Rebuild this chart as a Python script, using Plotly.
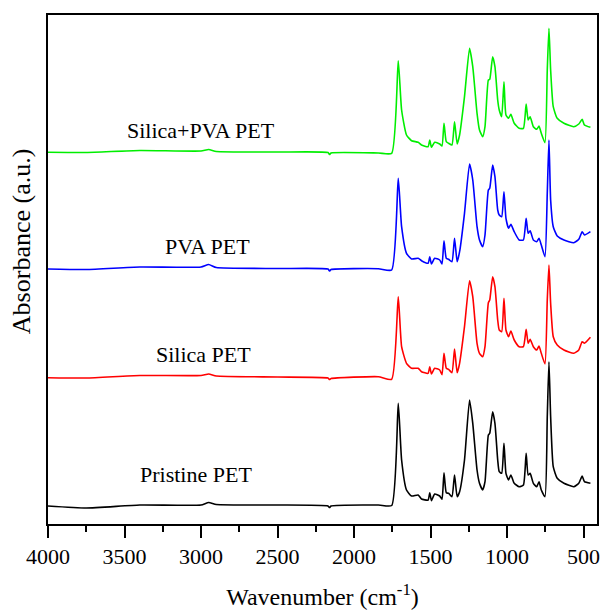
import plotly.graph_objects as go

wavenumber = [4000, 3750, 3400, 3000, 2950, 2900, 2500, 2170, 2160, 2150, 1841, 1754,
              1711, 1689, 1657, 1624, 1581, 1559, 1516, 1505, 1494, 1473, 1440, 1425,
              1412, 1397, 1382, 1360, 1343, 1326, 1310, 1278, 1245, 1224, 1196, 1180,
              1159, 1144, 1122, 1113, 1094, 1079, 1061, 1051, 1035, 1020, 1007, 990,
              975, 953, 921, 893, 875, 862, 849, 828, 806, 791, 776, 752,
              737, 726, 715, 698, 672, 628, 564, 531, 509, 494, 455]

pristine = [18, 16, 19, 19, 21.5, 19.5, 19, 18, 16.5, 18, 19, 18.5,
            120.7, 64, 34, 28, 29, 25, 24, 31.3, 23.3, 30, 28, 24.7,
            51.3, 31.3, 30.7, 27.3, 49, 27.3, 32.3, 64, 124, 100.7, 54, 40.7,
            34, 42.3, 89, 90.7, 112.3, 100.7, 64, 52.3, 50.7, 80.7, 50.7, 44,
            49, 40.7, 37.3, 39, 70.7, 49, 50.7, 40.7, 37.3, 42.3, 34, 27.3,
            107.3, 162.3, 107.3, 57.3, 45.7, 40.7, 37.3, 40.7, 48, 42.3, 40.7]

silica = [146.3, 146, 148.5, 148.5, 150, 148, 147, 146, 144.5, 145.5, 147.3, 144.7,
          227.3, 177.3, 160.7, 155.7, 155.7, 152.3, 150.7, 157.3, 150, 155.7, 154, 149.3,
          170.7, 155.7, 154.7, 151.3, 175, 151.3, 160.7, 197.3, 243.3, 227.3, 180.7, 170.7,
          167.3, 177.3, 221.3, 224, 247.3, 237.3, 204, 194, 192.3, 225.7, 194, 187.3,
          193, 184, 177.3, 177.3, 194.7, 180.7, 184.7, 177.3, 174, 178, 170.7, 160,
          224, 259, 220.7, 187.3, 179, 174, 170.7, 174, 182.3, 180.7, 186.7]

pva = [255, 254.5, 257, 257, 259.5, 256.5, 255.5, 255, 253, 254.5, 255.3, 254,
       345.7, 297.3, 270.7, 265, 265.7, 263.3, 260.7, 267.3, 260, 265.7, 264, 260,
       283.3, 265.7, 264.7, 262.3, 285.7, 262.3, 272.3, 310.7, 360, 344, 297.3, 284,
       277.3, 289, 334, 335.7, 359, 347.3, 314, 309, 307.3, 332.3, 305.7, 295.7,
       299.7, 292.3, 284, 284, 305.7, 290.7, 293.3, 284, 282.3, 285.7, 279, 267.3,
       330.7, 384, 324, 297.3, 288, 284, 281.3, 284.7, 292.3, 289, 292.3]

silica_pva = [371.7, 371.5, 373.5, 373, 374.5, 372.5, 372, 371.5, 369.5, 371, 371, 370.7,
              463.3, 414, 389, 383.3, 381.7, 379, 377.3, 384, 376.7, 381.7, 380, 378,
              400.7, 382.3, 380.7, 379, 402.3, 380, 389, 427.3, 475.7, 457.3, 410.7, 394,
              387.3, 397.3, 444, 444.7, 467.3, 457.3, 424, 414, 407.3, 442.3, 409, 405.7,
              409.7, 400.7, 395.7, 395.7, 420, 404, 407.3, 397.3, 394.7, 398, 390.7, 381.3,
              454, 495.7, 454, 417.3, 405.7, 400.7, 397.3, 400, 404.7, 399, 396.7]

series_names = ["Pristine PET", "Silica PET", "PVA PET", "Silica+PVA PET"]
series_values = [pristine, silica, pva, silica_pva]
series_colors = ["#000000", "#ff0000", "#0000ff", "#00ee00"]
label_x = [3036, 2984, 2958, 3003]
label_y = [50, 170, 278, 394]

FONT = "Liberation Serif"

fig = go.Figure()
for name, vals, col in zip(series_names, series_values, series_colors):
    fig.add_trace(go.Scatter(x=wavenumber, y=vals, mode="lines", name=name,
                             line=dict(color=col, width=1.6, shape="spline", smoothing=0.5),
                             showlegend=False))

for name, lx, ly in zip(series_names, label_x, label_y):
    fig.add_annotation(x=lx, y=ly, text=name, showarrow=False,
                       font=dict(family=FONT, size=22, color="black"))

# y-axis title placed as rotated text
fig.add_annotation(xref="paper", yref="paper", x=-0.048, y=0.555,
                   xanchor="center", yanchor="middle",
                   text="Absorbance (a.u.)", textangle=-90, showarrow=False,
                   font=dict(family=FONT, size=26, color="black"))

fig.update_layout(
    width=603, height=610,
    margin=dict(l=48, r=3, t=15, b=86),
    paper_bgcolor="white", plot_bgcolor="white",
    font=dict(family=FONT, color="black"),
)
fig.update_xaxes(
    range=[4000, 412], showgrid=False, zeroline=False,
    showline=True, linewidth=2, linecolor="black", mirror=True,
    ticks="outside", ticklen=12, tickwidth=2, tickcolor="black",
    tickvals=[4000, 3500, 3000, 2500, 2000, 1500, 1000, 500],
    minor=dict(tickvals=[3750, 3250, 2750, 2250, 1750, 1250, 750],
               ticks="outside", ticklen=6, tickwidth=2, tickcolor="black"),
    tickfont=dict(family=FONT, size=22, color="black"),
    title=dict(text="Wavenumber (cm<sup>-1</sup>)",
               font=dict(family=FONT, size=24, color="black"), standoff=20),
)
fig.update_yaxes(
    range=[0, 509], showgrid=False, zeroline=False,
    showline=True, linewidth=2, linecolor="black", mirror=True,
    showticklabels=False, ticks="",
)

fig.write_html("out.html")
